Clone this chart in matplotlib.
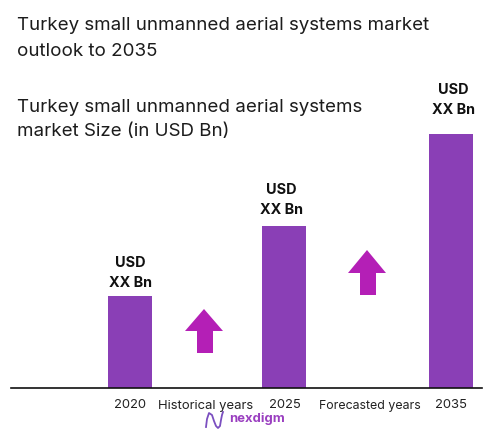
import matplotlib
matplotlib.use("Agg")
import matplotlib.pyplot as plt
from matplotlib.patches import Polygon

categories = ["2020", "2025", "2035"]
values = [92, 162, 254]
period_labels = ["Historical years", "Forecasted years"]
bar_label_top = "USD"
bar_label_bottom = "XX Bn"
title_lines = ["Turkey small unmanned aerial systems market", "outlook to 2035"]
subtitle_lines = ["Turkey small unmanned aerial systems", "market Size (in USD Bn)"]

BASE = 388
def py(y):
    return BASE - y

FONT = ["Inter", "DejaVu Sans"]
plt.rcParams['font.family'] = FONT
fig = plt.figure(figsize=(4.94, 4.38), dpi=100)
ax = fig.add_axes([0, 0, 1, 1])
ax.set_xlim(0, 494)
ax.set_ylim(BASE - 438, BASE)
ax.axis("off")

bar_x = [130, 284, 451]
ax.bar(bar_x, values, width=44, color="#8A3FB6", zorder=2)
ax.plot([11, 482], [0, 0], color="#111111", lw=1.2, zorder=3)

# Bar labels
lab_y = [(263, 283), (190, 210), (90, 110)]
lab_x = [130, 281, 453]
for x, (a, b) in zip(lab_x, lab_y):
    ax.text(x, py(a), bar_label_top, ha="center", va="center", fontsize=10.4,
            fontweight="bold", color="#111111")
    ax.text(x, py(b), bar_label_bottom, ha="center", va="center", fontsize=10.4,
            fontweight="bold", color="#111111")

# Category labels
for x, c in zip([130, 285, 451], categories):
    ax.text(x, py(405.5), c, ha="center", va="center", fontsize=9.4, color="#222222")
ax.text(206, py(405.5), period_labels[0], ha="center", va="center", fontsize=9.4,
        color="#222222")
ax.text(370, py(406.5), period_labels[1], ha="center", va="center", fontsize=8.9,
        color="#222222")

# Titles
for y, t in zip([26, 51], title_lines):
    ax.text(17, py(y), t, ha="left", va="center", fontsize=13.5, color="#1c1c1c")
for y, t in zip([107, 131], subtitle_lines):
    ax.text(17, py(y), t, ha="left", va="center", fontsize=13.5, color="#1c1c1c")

# Arrows
def arrow(cx, tip, head_base, bottom, hw=19, sw=8):
    pts = [(cx, tip), (cx + hw, head_base), (cx + sw + 1, head_base), (cx + sw + 1, bottom),
           (cx - sw + 1, bottom), (cx - sw + 1, head_base), (cx - hw, head_base)]
    ax.add_patch(Polygon([(x, py(y)) for x, y in pts], closed=True,
                         color="#B41FB6", lw=0, zorder=2))
arrow(204, 309, 331, 353)
arrow(367, 250, 273, 295)

# Logo
ax.plot([206, 207, 209, 212, 214, 216, 218, 220, 221, 222, 223],
        [py(y) for y in [427, 419, 413, 415, 421, 426, 428, 426, 420, 415, 412]],
        color="#7B4FC0", lw=1.3, zorder=2)
ax.text(229, py(419), "nexdigm", ha="left", va="center", fontsize=9.4,
        fontweight="bold", color="#9A3FC0")

fig.savefig("out.png", dpi=100)
